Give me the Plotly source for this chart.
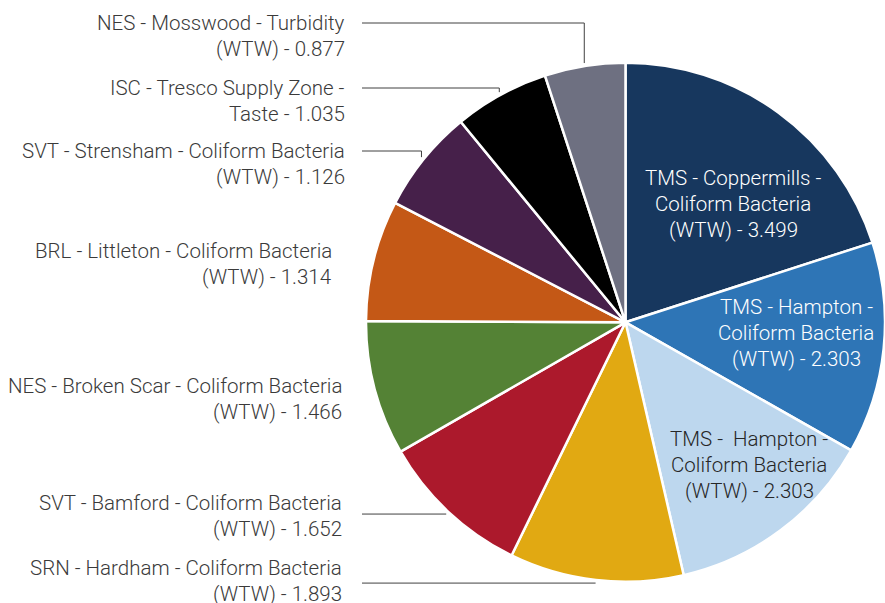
import math
import plotly.graph_objects as go

# ---------------- data ----------------
labels = [
    "TMS - Coppermills - Coliform Bacteria (WTW)",
    "TMS - Hampton - Coliform Bacteria (WTW)",
    "TMS -  Hampton - Coliform Bacteria (WTW)",
    "SRN - Hardham - Coliform Bacteria (WTW)",
    "SVT - Bamford - Coliform Bacteria (WTW)",
    "NES - Broken Scar - Coliform Bacteria (WTW)",
    "BRL - Littleton - Coliform Bacteria (WTW)",
    "SVT - Strensham - Coliform Bacteria (WTW)",
    "ISC - Tresco Supply Zone - Taste",
    "NES - Mosswood - Turbidity (WTW)",
]
values = [3.499, 2.303, 2.303, 1.893, 1.652, 1.466, 1.314, 1.126, 1.035, 0.877]
colors = ["#17375E", "#2E75B6", "#BDD7EE", "#E1A912", "#AC192C",
          "#548235", "#C45816", "#46204A", "#000000", "#6E7081"]

# label text lines (as displayed)
label_lines = [
    ["TMS - Coppermills -", "Coliform Bacteria", "(WTW) - 3.499"],
    ["TMS - Hampton -", "Coliform Bacteria", "(WTW) - 2.303"],
    ["TMS -  Hampton -", "Coliform Bacteria", "(WTW) - 2.303"],
    ["SRN - Hardham - Coliform Bacteria", "(WTW) - 1.893"],
    ["SVT - Bamford - Coliform Bacteria", "(WTW) - 1.652"],
    ["NES - Broken Scar - Coliform Bacteria", "(WTW) - 1.466"],
    ["BRL - Littleton - Coliform Bacteria", "(WTW) - 1.314"],
    ["SVT - Strensham - Coliform Bacteria", "(WTW) - 1.126"],
    ["ISC - Tresco Supply Zone -", "Taste - 1.035"],
    ["NES - Mosswood - Turbidity", "(WTW) - 0.877"],
]

# ---------------- layout params (pixels) ----------------
W, H = 885, 603
CX, CY, R = 625.5, 322.3, 259.5
LINE_H = 26
FONT = "Roboto"
FSIZE = 20.5

# inside labels: center position of text block
inside_pos = {0: (733, 204), 1: (796, 333), 2: (749, 465)}
inside_color = {0: "#FFFFFF", 1: "#FFFFFF", 2: "#262626"}
# outside labels: right edge x, first-line y, leader style
outside = {
    9: (347, 23, "elbow"),
    8: (347, 88, "elbow"),
    7: (347, 151, "elbow"),
    6: (334, 251, None),
    5: (344, 386, None),
    4: (344, 503, "flat"),
    3: (344, 568, "flat"),
}
LEADER_X0 = 362


def px(x):
    return x / W


def py(y):
    return 1 - y / H


fig = go.Figure(go.Pie(
    labels=labels,
    values=values,
    sort=False,
    direction="clockwise",
    rotation=0,
    marker=dict(colors=colors, line=dict(color="#FFFFFF", width=2.5)),
    textinfo="none",
    hoverinfo="skip",
    showlegend=False,
    domain=dict(x=[px(CX - R), px(CX + R)], y=[py(CY + R), py(CY - R)]),
))

total = sum(values)
cum = 0.0
mids = []
for v in values:
    mids.append((cum + v / 2) / total * 2 * math.pi)
    cum += v

annotations = []
shapes = []
for i, lines in enumerate(label_lines):
    if i in inside_pos:
        x0, yc = inside_pos[i]
        n = len(lines)
        for k, t in enumerate(lines):
            y = yc + (k - (n - 1) / 2) * LINE_H
            annotations.append(dict(
                x=px(x0), y=py(y), xref="paper", yref="paper",
                text=t, showarrow=False, xanchor="center", yanchor="middle",
                font=dict(family=FONT, size=FSIZE, color=inside_color[i], weight=300),
            ))
    else:
        xr, y1, style = outside[i]
        for k, t in enumerate(lines):
            annotations.append(dict(
                x=px(xr), y=py(y1 + k * LINE_H), xref="paper", yref="paper",
                text=t, showarrow=False, xanchor="right", yanchor="middle",
                font=dict(family=FONT, size=FSIZE, color="#3A3A3A", weight=300),
            ))
        if style:
            a = mids[i]
            ex = CX + (R + 3) * math.sin(a)
            ey = CY - (R + 3) * math.cos(a)
            if style == "elbow":
                path = f"M {px(LEADER_X0)},{py(y1)} L {px(ex)},{py(y1)} L {px(ex)},{py(ey)}"
            else:
                path = f"M {px(LEADER_X0)},{py(ey)} L {px(ex)},{py(ey)}"
            shapes.append(dict(type="path", path=path, xref="paper", yref="paper",
                               line=dict(color="#404040", width=1)))

fig.update_layout(
    width=W, height=H,
    margin=dict(l=0, r=0, t=0, b=0),
    paper_bgcolor="#FFFFFF",
    plot_bgcolor="#FFFFFF",
    annotations=annotations,
    shapes=shapes,
)

fig.write_html("out.html")
